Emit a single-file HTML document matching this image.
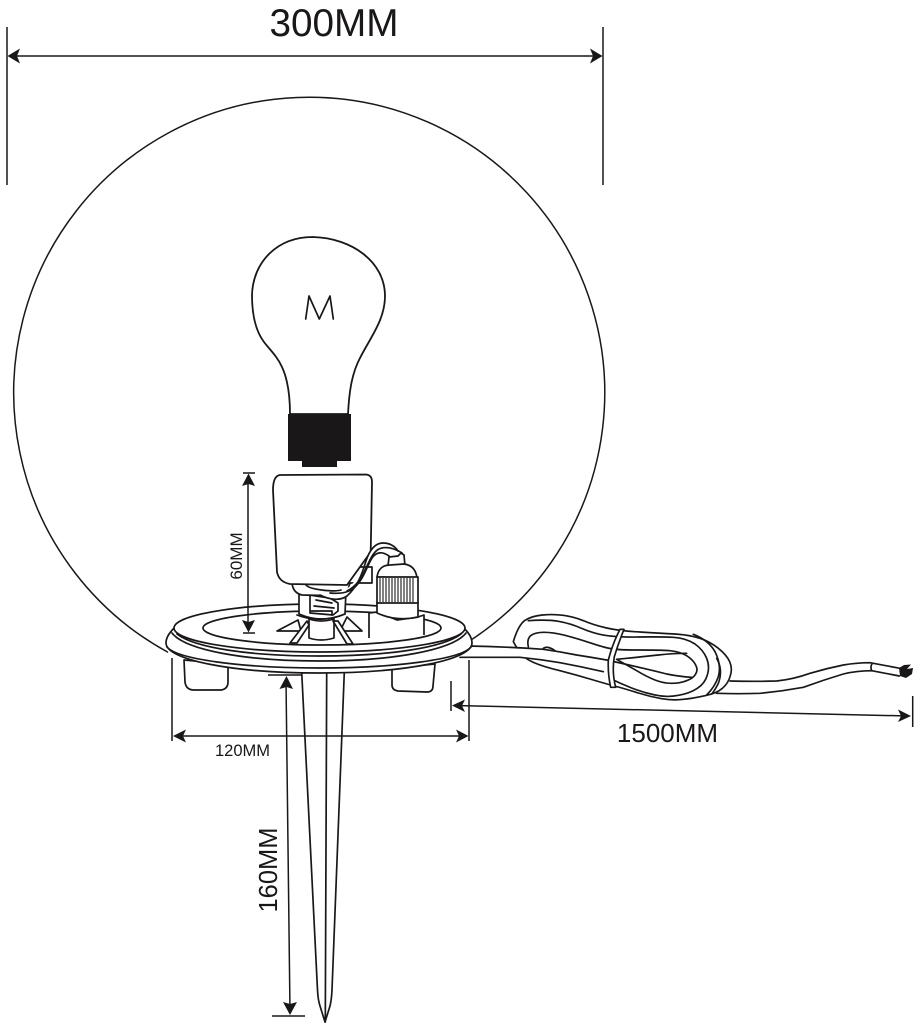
<!DOCTYPE html>
<html>
<head>
<meta charset="utf-8">
<style>
html,body{margin:0;padding:0;background:#fff;width:920px;height:1024px;overflow:hidden}
svg{display:block}
text{font-family:"Liberation Sans",sans-serif;fill:#1a1718}
.l{fill:none;stroke:#1a1718;stroke-width:1.7;stroke-linecap:round;stroke-linejoin:round}
.w{fill:#fff;stroke:#1a1718;stroke-width:1.7;stroke-linejoin:round}
.d{fill:none;stroke:#1a1718;stroke-width:1.5}
.a{fill:#1a1718;stroke:none}
.c .l,.c .w{stroke-width:5}
</style>
</head>
<body>
<svg width="920" height="1024" viewBox="0 0 920 1024" xmlns="http://www.w3.org/2000/svg">
<!-- globe (open arc, bottom hidden by base) -->
<path class="l" style="stroke-width:1.5" d="M167.500 652 A295.500 295.500 0 1 1 471 640"/>

<!-- bulb -->
<path class="w" style="stroke-width:1.8" d="M290 414 C290 395 288 380 282 367 C277 356 270 350 264 342 C255 330 252 312 252 295 C253 262 277 237 313 237 C352 238 385 262 385 296 C385 320 370 338 360 358 C351 375 349 395 348 414Z"/>
<polyline class="l" points="305.700,319 309,296 319.300,319 330,296 333.300,319"/>
<rect x="288" y="414" width="63" height="47" fill="#1a1718"/>
<rect x="302" y="461" width="35" height="6" fill="#1a1718"/>

<!-- cable and coil (coordinates traced at 3x) -->
<g class="c" transform="translate(460 600) scale(.33333)">
<path class="l" d="M810 243 Q880 245 950 243 Q1000 238 1050 220 Q1100 205 1150 195 Q1190 188 1230 188 L1320 205"/>
<path class="l" d="M770 280 Q835 282 900 280 Q965 274 1030 262 Q1090 240 1150 222 Q1190 212 1235 212 L1318 228"/>
<path class="l" d="M1237 190 Q1230 200 1235 212"/>
<path class="w" d="M160 125 Q175 75 195 61 Q215 48 247 45 Q280 42 310 46 Q340 50 370 62 Q400 75 440 84 Q480 93 540 96 Q600 100 645 102 Q690 105 720 115 Q750 125 775 145 Q800 165 809 185 Q818 205 811 227 Q805 250 787 265 Q770 280 735 287 Q700 295 670 298 Q640 302 605 296 Q570 290 535 279 Q500 268 475 261 Q450 255 400 240 Q350 225 300 212 Q250 200 220 187 Q190 175 175 150 Q165 135 160 125Z"/>
<path class="l" d="M205 62 Q260 58 295 64 Q330 70 365 85 Q400 100 435 106 Q470 112 535 111 Q600 110 640 112 Q680 115 705 132 Q730 150 740 175 Q750 200 742 225 Q735 250 712 265 Q690 280 655 286 Q620 293 585 285 Q550 278 515 264 Q480 250 450 235"/>
<path class="l" d="M205 140 Q200 118 212 107 Q225 97 252 97 Q280 97 315 106 Q350 115 395 130 Q440 145 460 147 Q480 150 540 150 Q600 150 630 152 Q660 155 680 167 Q700 180 707 195 Q715 210 707 222 Q700 235 680 242 Q660 250 635 250 Q610 250 585 240 Q560 230 530 212 Q500 195 470 178"/>
<path class="l" d="M470 178 Q550 170 595 165 Q640 160 680 160"/>
<path class="l" d="M700 103 Q745 120 765 155 Q785 195 775 230 Q765 260 740 285"/>
<path class="l" d="M770 175 Q790 210 775 250 Q765 270 755 282"/>
<path class="w" style="stroke:none" d="M20 140 L250 149 L350 166 L440 181 L430 214 L300 187 L180 171 L0 171Z"/>
<path class="l" d="M25 138 Q140 140 250 148 Q300 155 350 165 Q395 172 440 180 Q495 192 550 205 Q585 213 620 222 Q660 230 695 232"/>
<path class="l" d="M0 172 L180 172 Q240 178 300 188 Q365 200 430 215"/>
<path class="l" d="M250 145 Q262 136 285 152"/>
<path class="w" d="M480 88 L492 88 Q475 130 463 170 Q455 215 467 262 L452 262 Q443 220 445 180 Q458 130 480 88Z"/>
</g>
<path class="a" d="M899 668 L904 665 L911 664.500 L907 669 L913 668 L912 674 L906 678 L900 676Z"/>

<!-- feet -->
<path class="w" d="M184 660 L185 682 Q186 690 194 690 L221 690 Q228 689 228 682 L228 664Z"/>
<path class="w" d="M392 668 L392 685 Q392 690 398 691 L427 692 Q433 692 433 686 L435 664Z"/>

<!-- spike -->
<path class="w" d="M301.700 672 L317.500 990 Q318 1000 320 1006 L325 1022 L330 1006 Q331.500 1000 332 990 L344.300 672Z"/>
<path class="l" d="M326.700 672 L325.300 1022"/>

<!-- base plate -->
<path class="w" d="M166 643 C166 637 170 632 176 626 L462 626 C468 632 472 637 472 643 C472 660 405 673 319 673 C233 673 166 660 166 643Z"/>
<path class="l" d="M167 647 C177 659 240 668 319 668 C398 668 461 659 471 647"/>
<path class="l" d="M172 633 C185 650 245 661 319 661 C393 661 453 650 466 633"/>
<ellipse cx="319.500" cy="628" rx="145.500" ry="24" class="w"/>
<path class="l" d="M177 634 C195 648 250 656 319 656 C388 656 443 648 461 634"/>
<ellipse cx="322" cy="628" rx="119" ry="17" class="w"/>

<!-- lower holder -->
<path class="w" d="M298 620 L277 631 L301 631Z"/>
<path class="w" d="M347 617 L362 631 L340 631Z"/>
<path class="w" d="M299 590 L299 614 Q322 624 345 614 L346 590Z"/>
<path class="l" d="M297 615 Q320 624 345 614"/>
<path class="w" d="M309 619 L309 638 Q321 642 334 638 L334 619 Q321 623 309 619Z"/>
<path class="w" d="M307 621 L290 643 L297 643 L309 625Z"/>
<path class="w" d="M333 621 L347 644 L353 644 L338 621Z"/>
<path class="w" d="M310 595 L310 613 L333 615 L338 611 L338 603 L330 598 L316 596Z"/>
<path class="l" d="M316 600 L332 603 M314 606 L334 608 M311 611 L332 611 L332 615"/>

<!-- lampholder base box -->
<path class="w" d="M369 638 L369 613 L377 612 L397 620 L418 617 L424 615 L424 635"/>
<path class="w" d="M377 602 L377 613 Q397 622 418 617 L418 602Z"/>

<!-- small rect behind wires -->
<path class="w" d="M349 567 L372 567 L372 583 L349 583Z"/>

<!-- socket collar -->
<path class="w" d="M292 583 Q293 593 302 595 L346 596 L350 583Z"/>

<!-- socket body -->
<path class="w" style="stroke-width:1.8" d="M280 475 L366 474.500 Q372 475 372 482 L370.700 552 L347 585 L290 584 Q279 582 277 572 L273 490 Q273 476 280 475Z"/>

<!-- wires -->
<path fill="#fff" stroke="none" d="M398 551 C394 545 388 543 383 543 C374 543 369 552 366 561 C362 574 358 586 347 596 C340 601 330 600 320 595 L320 590 L345 590 C356 583 362 570 368 562 C372 555 378 552 390 556Z"/>
<path class="l" d="M398 551 C394 545 388 543 383 543 C374 543 369 552 366 561 C362 574 358 586 347 596 C340 601 330 600 320 595"/>
<path class="l" d="M402 553 C394 548 386 546 379 549 C373 552 370 560 366 568 C362 577 357 586 347 591"/>
<path class="l" d="M389 556 C382 551 376 552 372 558 C367 566 364 578 356 586 C350 593 340 594 330 593"/>
<path class="l" d="M341 590 C335 592 310 590 306 585"/>

<!-- lampholder -->
<path class="w" d="M388 566 L389 557 L398 556 L401 553 L404 555 L405 566Z"/>
<path class="w" d="M377 577 C378 570 382 565 390 565 L404 564 C412 565 416 570 417 578Z"/>
<rect x="377" y="577" width="41" height="26" class="w"/>
<g stroke="#1a1718" stroke-width="1.100">
<line x1="380" y1="578" x2="380" y2="602"/><line x1="383" y1="578" x2="383" y2="602"/><line x1="386" y1="578" x2="386" y2="602"/>
<line x1="389" y1="578" x2="389" y2="602"/><line x1="392" y1="578" x2="392" y2="602"/><line x1="395" y1="578" x2="395" y2="602"/>
<line x1="398" y1="578" x2="398" y2="602"/><line x1="401" y1="578" x2="401" y2="602"/><line x1="404" y1="578" x2="404" y2="602"/>
<line x1="407" y1="578" x2="407" y2="602"/><line x1="410" y1="578" x2="410" y2="602"/><line x1="413" y1="578" x2="413" y2="602"/>
</g>

<!-- dim 300 -->
<path class="d" d="M7 27 V185 M603 27 V185 M10 56 H600"/>
<polygon class="a" points="7.500,56 20,48.500 17,56 20,63.500"/>
<polygon class="a" points="602.500,56 590,48.500 593,56 590,63.500"/>
<text x="334" y="36" font-size="38.700" text-anchor="middle">300MM</text>

<!-- dim 60 -->
<path class="d" d="M243 473 H255 M243 633 H255 M248 476 V630"/>
<polygon class="a" points="248.500,473.500 242,486 248.500,484 255,486"/>
<polygon class="a" points="248.500,632.500 242,620 248.500,622 255,620"/>
<text transform="translate(242 556) rotate(-90)" font-size="17" text-anchor="middle">60MM</text>

<!-- dim 120 -->
<path class="d" d="M172 658 V741 M469 660 V741 M175 736 H466"/>
<polygon class="a" points="173,736 186,729.500 183,736 186,742.500"/>
<polygon class="a" points="468.500,736 456,729.500 459,736 456,742.500"/>
<text x="242.500" y="756" font-size="16.500" text-anchor="middle">120MM</text>

<!-- dim 160 -->
<path class="d" d="M268 675 H302 M272 1016 H305 M286 680 L290 1012"/>
<polygon class="a" points="286.500,676 279.500,689 286.500,687 293,689"/>
<polygon class="a" points="290,1015 283,1002 290,1004 297,1002"/>
<text transform="translate(277 870) rotate(-90)" font-size="25.500" text-anchor="middle">160MM</text>

<!-- dim 1500 -->
<path class="d" d="M451 681 V711 M912.700 696 V727 M455 705.500 L908 716"/>
<polygon class="a" points="452,705.500 465,699.500 462,705.800 465,712"/>
<polygon class="a" points="911,716 898,709.500 901,716 898,722"/>
<text x="667.500" y="742" font-size="26" text-anchor="middle">1500MM</text>
</svg>
</body>
</html>
